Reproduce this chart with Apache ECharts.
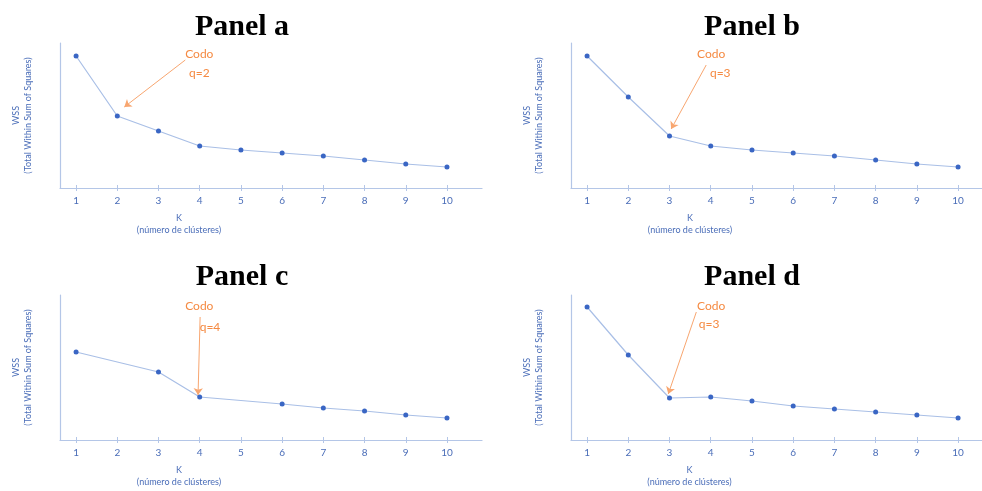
<!DOCTYPE html>
<html>
<head>
<meta charset="utf-8">
<script src="https://cdn.jsdelivr.net/npm/echarts@6/dist/echarts.min.js"></script>
<style>
html,body{margin:0;padding:0;background:#fff;}
#c{width:982px;height:491px;}
</style>
</head>
<body>
<div id="c"></div>
<script>
// ---- data ----
const kValues = [1, 2, 3, 4, 5, 6, 7, 8, 9, 10];
const tickLabels = ['1', '2', '3', '4', '5', '6', '7', '8', '9', '10'];
const panelTitles = ['Panel a', 'Panel b', 'Panel c', 'Panel d'];
const wssA = [132, 72, 57, 42, 38, 35, 32, 28, 24, 21];
const wssB = [132, 91, 52, 42, 38, 35, 32, 28, 24, 21];
const wssC = [88, null, 68, 43, null, 36, 32, 29, 25, 22];
const wssD = [133, 85, 42, 43, 39, 34, 31, 28, 25, 22];
const elbowLabels = ['q=2', 'q=3', 'q=4', 'q=3'];
// arrow start / end and label anchors (in data units)
const arrowFrom = [[3.65, 128], [3.89, 123], [4.01, 123], [3.65, 128]];
const arrowTo   = [[2.17, 81], [3.04, 59], [3.96, 45], [2.97, 46]];
const codoAt    = [[3.99, 134], [4.01, 134], [3.99, 134], [4.01, 134]];
const qAt       = [[3.99, 115], [4.23, 115], [4.25, 113], [3.96, 116]];

const series = [wssA, wssB, wssC, wssD];

// ---- layout ----
const grids = [
  {left: 60, top: 43, width: 422, height: 145},
  {left: 571, top: 43, width: 411, height: 145},
  {left: 60, top: 295, width: 422, height: 145},
  {left: 571, top: 295, width: 411, height: 145}
];
const xMax = [10.85, 10.58, 10.85, 10.58];
const titlePos = [[237, 7], [747, 7], [237, 257], [747, 257]];
const namePad = [184, 173, 184, 174];

const BLUE_TXT = '#4a6db8';
const AXIS_C = '#b4c6e7';
const ORANGE = '#f58a42';
const FONT = 'Lato';

const xAxes = [], yAxes = [], seriesOpts = [], titles = [];
for (let i = 0; i < 4; i++) {
  titles.push({
    text: panelTitles[i], left: titlePos[i][0], top: titlePos[i][1], textAlign: 'center',
    textStyle: {fontFamily: 'Liberation Serif', fontWeight: 'bold', fontSize: 30, color: '#000'}
  });
  xAxes.push({
    gridIndex: i, type: 'value', min: 0.61, max: xMax[i],
    axisLine: {show: true, lineStyle: {color: AXIS_C, width: 1.2}},
    axisTick: {show: true, length: 3, customValues: kValues, lineStyle: {color: AXIS_C}},
    axisLabel: {show: true, customValues: kValues, margin: 8,
      formatter: v => tickLabels[kValues.indexOf(v)],
      color: BLUE_TXT, fontFamily: FONT, fontSize: 10},
    splitLine: {show: false},
    name: 'K\n(número de clústeres)', nameLocation: 'middle', nameGap: 24,
    nameTextStyle: {color: BLUE_TXT, fontFamily: FONT, fontSize: 9, lineHeight: 12,
      padding: [0, namePad[i], 0, 0]}
  });
  yAxes.push({
    gridIndex: i, type: 'value', min: 0, max: 145,
    axisLine: {show: true, lineStyle: {color: AXIS_C, width: 1.2}},
    axisTick: {show: false}, axisLabel: {show: false}, splitLine: {show: false},
    name: 'WSS\n(Total Within Sum of Squares)', nameLocation: 'middle', nameRotate: 90, nameGap: 26,
    nameTextStyle: {color: BLUE_TXT, fontFamily: FONT, fontSize: 9, lineHeight: 12}
  });
}
// helper axes: inside half of the ticks (ticks cross the axis line)
for (let i = 0; i < 4; i++) {
  xAxes.push({
    gridIndex: i, type: 'value', min: 0.61, max: xMax[i], position: 'bottom',
    axisLine: {show: false},
    axisTick: {show: true, inside: true, length: 3, customValues: kValues, lineStyle: {color: AXIS_C}},
    axisLabel: {show: false}, splitLine: {show: false}
  });
}
for (let i = 0; i < 4; i++) {
  const data = kValues.map((k, j) => [k, series[i][j]]);
  seriesOpts.push({
    type: 'line', xAxisIndex: i, yAxisIndex: i, data: data, connectNulls: true,
    symbol: 'circle', symbolSize: 5,
    itemStyle: {color: '#3a66c4'},
    lineStyle: {color: '#a9bfe6', width: 1.2},
    z: 3,
    markLine: {
      silent: true, symbol: ['none', 'arrow'], symbolSize: 7,
      lineStyle: {color: '#f8a670', width: 1, type: 'solid'},
      itemStyle: {color: '#f58a42'},
      label: {show: false},
      data: [[{coord: arrowFrom[i]}, {coord: arrowTo[i]}]]
    },
    markPoint: {
      silent: true, symbol: 'circle', symbolSize: 1,
      itemStyle: {color: 'rgba(0,0,0,0)'},
      label: {show: true, position: 'inside', color: ORANGE, fontFamily: FONT, fontSize: 12},
      data: [
        {coord: codoAt[i], label: {formatter: 'Codo'}},
        {coord: qAt[i], label: {formatter: elbowLabels[i]}}
      ]
    }
  });
}

const chart = echarts.init(document.getElementById('c'), null, {renderer: 'canvas'});
chart.setOption({
  animation: false,
  backgroundColor: '#fff',
  title: titles,
  grid: grids,
  xAxis: xAxes,
  yAxis: yAxes,
  series: seriesOpts
});
</script>
</body>
</html>
